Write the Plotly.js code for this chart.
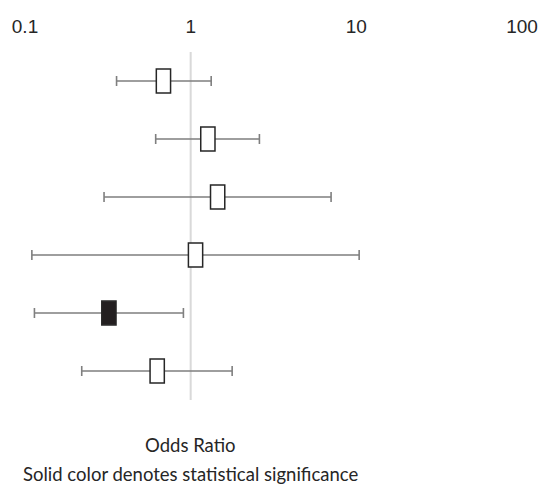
<!DOCTYPE html>
<html>
<head>
<meta charset="utf-8">
<script src="https://cdn.plot.ly/plotly-3.0.1.min.js"></script>
<style>html,body{margin:0;padding:0;background:#fff;}#chart{width:539px;height:490px;}</style>
</head>
<body>
<div id="chart"></div>
<script>
// Odds ratios with 95% confidence intervals, top row first
const rowIds = [1, 2, 3, 4, 5, 6];
const oddsRatio = [0.685, 1.27, 1.455, 1.07, 0.321, 0.628];
const ciLower = [0.357, 0.615, 0.30, 0.110, 0.114, 0.22];
const ciUpper = [1.33, 2.60, 7.04, 10.4, 0.904, 1.78];
const significant = [false, false, false, false, true, false];
const tickValues = [0.1, 1, 10, 100];
const tickLabels = ['0.1', '1', '10', '100'];

const halfDecades = 0.043;   // half box width in decades
const halfHeight = 0.205;    // half box height in row units

const whiskers = {
  type: 'scatter',
  mode: 'markers',
  x: oddsRatio,
  y: rowIds,
  marker: {size: 1, color: 'rgba(0,0,0,0)'},
  error_x: {
    type: 'data',
    symmetric: false,
    array: oddsRatio.map((v, i) => ciUpper[i] - v),
    arrayminus: oddsRatio.map((v, i) => v - ciLower[i]),
    color: '#7f7f7f',
    thickness: 1.6,
    width: 5
  },
  hoverinfo: 'skip',
  showlegend: false
};

const shapes = [{
  type: 'line', xref: 'x', yref: 'paper',
  x0: 1, x1: 1, y0: 0, y1: 1,
  line: {color: '#d9d9d9', width: 2},
  layer: 'below'
}];
oddsRatio.forEach((v, i) => {
  shapes.push({
    type: 'rect', xref: 'x', yref: 'y',
    x0: v * Math.pow(10, -halfDecades), x1: v * Math.pow(10, halfDecades),
    y0: rowIds[i] - halfHeight, y1: rowIds[i] + halfHeight,
    line: {color: '#262626', width: 1.5},
    fillcolor: significant[i] ? '#231f20' : '#ffffff',
    layer: 'above'
  });
});

const layout = {
  width: 539, height: 490,
  margin: {l: 25, r: 17, t: 52, b: 90, pad: 0},
  paper_bgcolor: '#ffffff', plot_bgcolor: '#ffffff',
  showlegend: false,
  xaxis: {
    type: 'log', range: [-1, 2], side: 'top',
    tickvals: tickValues, ticktext: tickLabels,
    showgrid: false, zeroline: false, showline: false, ticks: '',
    tickfont: {family: 'Liberation Sans, Arial, sans-serif', size: 19, color: '#262626'},
    ticklabelstandoff: 14
  },
  yaxis: {
    range: [6.5, 0.5], showgrid: false, zeroline: false, showline: false,
    showticklabels: false, ticks: ''
  },
  shapes: shapes,
  annotations: [
    {text: 'Odds Ratio', xref: 'paper', yref: 'paper', x: 0.332, y: 0, yshift: -45,
     xanchor: 'center', yanchor: 'middle', showarrow: false,
     font: {family: 'Lato, Open Sans, sans-serif', size: 18.5, color: '#262626'}},
    {text: 'Solid color denotes statistical significance', xref: 'paper', yref: 'paper', x: 0.332, y: 0, yshift: -74,
     xanchor: 'center', yanchor: 'middle', showarrow: false,
     font: {family: 'Lato, Open Sans, sans-serif', size: 18.5, color: '#262626'}}
  ]
};

Plotly.newPlot('chart', [whiskers], layout, {displayModeBar: false, staticPlot: true});
</script>
</body>
</html>
